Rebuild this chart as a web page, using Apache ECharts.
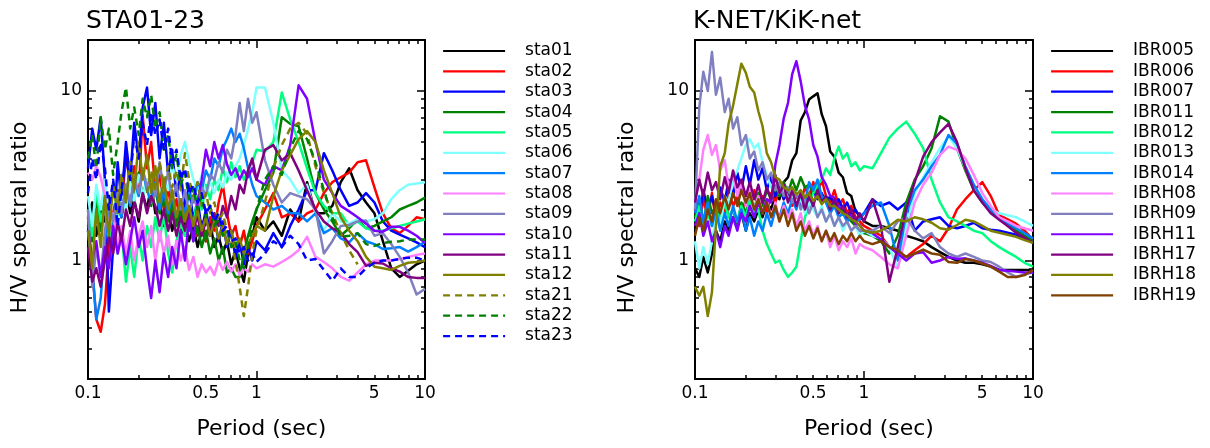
<!DOCTYPE html>
<html><head><meta charset="utf-8">
<script src="https://cdn.jsdelivr.net/npm/echarts@6/dist/echarts.min.js"></script>
<style>html,body{margin:0;padding:0;background:#fff}#c{width:1210px;height:448px}</style>
</head><body><div id="c"></div>
<script>
// Period grid (sec): 1/40 decade up to 1 s, 1/20 decade from 1 to 10 s
const periods = [0.1, 0.106, 0.112, 0.119, 0.126, 0.133, 0.141, 0.15, 0.158, 0.168, 0.178, 0.188, 0.2, 0.211, 0.224, 0.237, 0.251, 0.266, 0.282, 0.299, 0.316, 0.335, 0.355, 0.376, 0.398, 0.422, 0.447, 0.473, 0.501, 0.531, 0.562, 0.596, 0.631, 0.668, 0.708, 0.75, 0.794, 0.841, 0.891, 0.944, 1.0,
  1.122, 1.259, 1.413, 1.585, 1.778, 1.995, 2.239, 2.512, 2.818, 3.162, 3.548, 3.981, 4.467, 5.012, 5.623, 6.31, 7.079, 7.943, 8.913, 10];

// ---- Left panel: STA01-23 ----
const sta01 = [1.6, 2.2, 1.4, 2.0, 1.7, 2.4, 1.5, 2.1, 1.8, 2.6, 1.9, 2.3, 1.7, 2.5, 2.0, 2.8, 1.9, 2.2, 1.6, 2.0, 1.5, 1.9, 1.4, 1.7, 1.3, 1.6, 1.2, 1.5, 1.3, 1.7, 1.2, 1.4, 1.1, 1.3, 0.95, 1.15, 0.9, 0.75, 1.1, 1.4, 1.8,
  1.5, 1.7, 1.4, 2.0, 1.7, 2.9, 1.9, 1.9, 2.1, 2.9, 3.5, 2.6, 2.2, 1.9, 1.3, 0.9, 0.8, 0.87, 0.95, 1.0];
const sta02 = [1.8, 0.9, 0.45, 0.38, 0.55, 1.2, 1.9, 2.6, 2.0, 4.2, 2.8, 3.6, 2.5, 7.2, 3.5, 5.0, 2.6, 3.2, 2.0, 2.7, 1.8, 2.3, 1.6, 2.1, 1.5, 1.9, 1.4, 1.7, 1.3, 1.8, 1.5, 2.2, 2.8, 1.9, 1.4, 1.6, 1.2, 1.5, 1.1, 1.3, 1.6,
  2.0, 2.5, 1.8, 1.9, 1.7, 1.9, 2.0, 2.5, 2.9, 3.1, 3.3, 3.8, 3.9, 2.7, 1.9, 1.55, 1.45, 1.6, 1.8, 1.75];
const sta03 = [3.5, 6.0, 4.5, 7.0, 3.0, 0.5, 1.2, 3.8, 2.2, 5.0, 3.0, 6.5, 4.0, 8.0, 10.5, 5.5, 8.5, 4.0, 6.5, 3.2, 4.5, 2.4, 3.3, 2.0, 2.8, 1.7, 2.3, 1.5, 2.0, 1.4, 1.8, 1.3, 1.7, 1.2, 1.5, 1.05, 1.3, 0.95, 1.2, 1.0, 1.3,
  1.15, 1.45, 1.2, 1.6, 2.0, 2.6, 2.6, 4.3, 3.4, 2.6, 2.1, 2.2, 2.5, 2.2, 1.7, 1.5, 1.42, 1.35, 1.28, 1.2];
const sta04 = [1.8, 1.3, 2.2, 1.5, 2.5, 1.6, 2.9, 2.0, 3.2, 2.2, 3.8, 2.5, 3.3, 2.4, 3.0, 2.1, 2.7, 1.9, 2.4, 1.7, 2.2, 1.6, 2.0, 1.4, 1.8, 1.3, 1.6, 1.2, 1.5, 1.1, 1.35, 1.0, 1.2, 0.85, 0.9, 0.8, 0.8, 1.1, 1.4, 1.7, 2.0,
  2.6, 3.3, 7.0, 6.4, 6.2, 4.0, 2.5, 2.0, 1.7, 1.4, 1.55, 1.75, 1.55, 1.6, 1.7, 1.8, 2.0, 2.1, 2.2, 2.35];
const sta05 = [2.0, 1.4, 2.6, 1.7, 2.2, 1.3, 1.8, 1.1, 1.5, 0.75, 1.2, 0.8, 1.4, 1.0, 1.6, 1.2, 1.8, 1.3, 1.9, 1.1, 0.85, 1.3, 1.7, 1.4, 2.0, 1.6, 2.4, 2.0, 2.8, 2.3, 3.0, 2.6, 3.5, 2.9, 3.8, 3.1, 3.6, 3.0, 3.4, 3.8, 4.5,
  4.4, 5.0, 9.8, 6.8, 5.0, 3.5, 2.5, 2.1, 1.9, 1.9, 1.6, 1.7, 1.55, 1.5, 1.5, 1.55, 1.6, 1.65, 1.7, 1.75];
const sta06 = [2.4, 1.6, 2.8, 2.0, 3.0, 1.9, 2.6, 1.8, 2.4, 2.0, 2.9, 2.2, 3.2, 2.4, 3.0, 2.2, 2.8, 2.3, 3.1, 2.6, 3.6, 3.0, 4.2, 5.0, 3.8, 3.0, 2.6, 3.2, 2.4, 2.9, 2.5, 3.0, 2.7, 3.3, 3.0, 3.6, 4.0, 4.8, 6.0, 7.5, 10.5,
  10.5, 6.5, 3.4, 3.0, 2.5, 2.8, 1.9, 1.5, 1.9, 1.7, 1.65, 1.75, 1.7, 1.75, 1.9, 2.3, 2.6, 2.8, 2.85, 2.9];
const sta07 = [1.5, 0.9, 0.45, 0.6, 1.3, 2.0, 1.5, 2.5, 1.8, 2.8, 2.1, 3.0, 2.4, 3.4, 2.6, 2.2, 2.9, 2.0, 2.6, 1.9, 2.4, 1.8, 2.3, 1.9, 2.5, 2.2, 2.9, 2.6, 3.4, 3.0, 4.0, 3.6, 4.6, 5.2, 6.0, 5.0, 5.6, 4.6, 3.5, 2.8, 2.4,
  2.2, 2.0, 2.1, 1.9, 1.9, 1.7, 1.9, 1.45, 1.55, 1.35, 1.28, 1.45, 1.3, 1.25, 1.17, 1.18, 1.2, 1.13, 1.2, 1.29];
const sta08 = [3.3, 3.0, 3.6, 3.1, 2.4, 1.5, 1.9, 1.2, 1.6, 1.1, 1.5, 1.0, 1.4, 1.7, 1.2, 1.6, 1.0, 1.5, 1.1, 1.4, 0.95, 1.3, 1.0, 1.2, 0.88, 1.05, 0.8, 0.95, 0.85, 0.92, 0.82, 1.0, 0.88, 0.98, 0.86, 0.95, 0.82, 0.9, 0.86, 0.95, 0.9,
  0.95, 0.92, 0.98, 1.05, 1.15, 1.38, 1.05, 0.98, 0.9, 0.8, 0.76, 0.85, 0.95, 1.0, 1.0, 1.0, 1.02, 1.05, 1.08, 1.1];
const sta09 = [2.0, 0.7, 1.2, 0.8, 1.5, 2.2, 1.7, 2.5, 1.9, 2.8, 2.2, 3.1, 2.5, 3.5, 2.7, 3.2, 2.4, 3.8, 2.6, 3.3, 2.3, 2.8, 2.0, 2.6, 1.9, 2.4, 2.0, 2.7, 2.4, 3.2, 3.0, 3.8, 3.3, 4.5, 4.0, 5.5, 8.5, 5.8, 9.0, 6.5, 7.5,
  3.9, 2.8, 2.2, 2.5, 2.4, 2.3, 2.0, 1.1, 1.3, 1.6, 1.62, 1.7, 1.72, 1.4, 1.45, 1.25, 1.05, 0.85, 0.63, 0.68];
const sta10 = [1.5, 1.0, 1.3, 0.8, 1.2, 0.9, 1.6, 1.1, 1.4, 0.95, 1.3, 1.8, 1.2, 1.5, 0.9, 0.6, 1.0, 0.65, 1.1, 0.8, 1.2, 0.9, 1.5, 1.0, 1.8, 1.3, 2.2, 3.0, 4.5, 3.6, 5.0, 4.0, 4.8, 3.7, 3.2, 3.5, 3.0, 3.4, 3.1, 3.5, 3.0,
  2.8, 3.6, 3.4, 4.8, 10.8, 9.0, 5.0, 3.0, 2.5, 2.1, 1.95, 1.8, 1.65, 1.5, 1.48, 1.58, 1.58, 1.5, 1.4, 1.27];
const sta11 = [1.2, 0.75, 0.9, 0.7, 1.0, 1.4, 1.1, 1.7, 1.3, 2.0, 1.6, 2.2, 1.8, 2.5, 1.9, 2.4, 2.1, 1.6, 2.0, 1.5, 1.9, 1.4, 1.8, 1.5, 2.0, 1.6, 1.8, 1.4, 1.7, 1.5, 1.9, 1.6, 2.1, 1.8, 2.4, 2.0, 2.8, 2.5, 3.4, 4.0, 3.0,
  4.5, 4.8, 3.9, 4.3, 3.4, 2.6, 2.0, 1.7, 1.55, 1.46, 1.25, 1.12, 0.93, 0.97, 0.96, 0.9, 0.86, 0.8, 0.79, 0.79];
const sta12 = [1.5, 0.9, 2.0, 1.2, 2.4, 1.4, 2.8, 1.9, 3.2, 2.2, 3.8, 2.6, 5.0, 3.0, 4.2, 2.5, 3.6, 2.2, 3.0, 2.0, 2.6, 1.8, 2.3, 1.7, 2.1, 1.6, 2.0, 1.5, 1.8, 1.4, 1.7, 1.35, 1.6, 1.25, 1.5, 1.2, 1.35, 1.1, 1.25, 1.4, 1.6,
  1.5, 2.4, 3.4, 4.2, 5.2, 5.8, 5.0, 3.4, 2.5, 1.8, 1.5, 1.3, 1.05, 0.92, 0.9, 0.88, 0.93, 0.97, 0.98, 1.0];
const sta21 = [null, null, null, null, null, null, null, null, null, null, null, null, null, null, 2.5, 3.4, 2.6, 3.8, 2.8, 3.6, 2.7, 3.4, 2.6, 4.3, 3.0, 2.4, 2.9, 2.1, 2.5, 1.9, 2.2, 1.7, 1.9, 1.5, 1.3, 1.0, 0.7, 0.47, 0.7, 1.1, 1.5,
  2.2, 3.5, 4.8, 6.0, 6.5, 5.6, 3.6, 2.5, 1.9, 1.45, 1.15, 0.95, null, null, null, null, null, null, null, null];
const sta22 = [4.0, 5.5, 3.5, 7.0, 4.5, 6.0, 3.2, 5.0, 7.5, 10.5, 6.0, 8.0, 5.5, 9.0, 7.0, 9.5, 6.0, 7.5, 4.5, 5.5, 3.5, 4.2, 2.8, 3.3, 2.3, 2.7, 2.0, 2.4, 1.8, 2.1, 1.6, 1.8, 1.4, 1.5, 1.2, 1.3, 1.0, 0.9, 1.2, 1.6, 2.0,
  3.0, 3.6, 3.2, 4.6, 5.8, 5.2, 3.8, 2.6, 1.8, 1.38, 1.4, 1.45, 1.25, 1.22, 1.27, 1.29, 1.3, 1.33, 1.33, 1.33];
const sta23 = [2.5, 4.0, 3.0, 5.0, 3.5, 2.0, 3.0, 1.6, 2.6, 4.0, 3.0, 5.5, 4.0, 6.5, 4.8, 7.5, 5.5, 6.8, 4.5, 6.0, 3.8, 4.5, 3.0, 3.5, 2.5, 2.8, 2.2, 2.5, 1.9, 2.1, 1.7, 1.9, 1.5, 1.6, 1.3, 1.35, 1.1, 1.2, 1.0, 1.1, 0.98,
  1.1, 1.3, 1.2, 1.4, 1.25, 1.0, 1.02, 0.88, 0.76, 0.9, 0.8, 0.8, 0.9, 0.97, 1.0, 1.0, 1.02, 1.04, 1.04, 1.0];

// ---- Right panel: K-NET/KiK-net ----
const IBR005 = [0.9, 0.8, 1.05, 0.85, 1.1, 1.5, 1.3, 1.7, 1.5, 1.8, 1.6, 1.9, 1.5, 1.9, 1.7, 2.0, 1.8, 2.2, 2.0, 2.4, 2.3, 2.9, 3.1, 3.9, 4.3, 6.7, 7.5, 8.9, 9.3, 9.7, 7.3, 6.2, 4.4, 4.1, 3.3, 3.1, 2.5, 2.4, 1.95, 1.85, 1.7,
  1.6, 1.6, 1.55, 1.5, 1.4, 1.35, 1.3, 1.2, 1.12, 1.05, 1.0, 0.97, 0.97, 0.95, 0.92, 0.88, 0.88, 0.88, 0.88, 0.88];
const IBR006 = [2.0, 1.6, 2.3, 1.8, 2.5, 1.7, 2.2, 1.9, 2.6, 2.1, 2.4, 1.9, 2.3, 2.0, 2.6, 2.1, 2.4, 1.9, 2.5, 2.2, 2.7, 2.3, 2.6, 2.1, 2.4, 2.2, 2.7, 2.4, 2.9, 2.5, 3.0, 2.4, 2.2, 2.6, 2.1, 2.3, 1.9, 2.1, 1.8, 1.7, 1.6,
  1.5, 1.4, 1.2, 1.1, 1.05, 1.15, 1.25, 1.4, 1.3, 1.55, 2.0, 2.3, 2.6, 2.9, 2.4, 1.85, 1.75, 1.65, 1.5, 1.33];
const IBR007 = [2.3, 1.8, 2.6, 2.0, 2.4, 1.9, 2.7, 2.2, 3.0, 2.4, 3.3, 2.6, 3.6, 2.8, 3.9, 3.0, 3.5, 2.6, 3.1, 2.4, 2.8, 2.3, 2.6, 2.2, 2.5, 2.1, 2.4, 2.2, 2.6, 2.3, 2.5, 2.2, 2.4, 2.1, 2.3, 2.0, 2.2, 1.9, 2.0, 1.8, 1.9,
  2.3, 2.1, 2.2, 2.0, 2.2, 1.5, 1.7, 1.75, 1.8, 1.6, 1.55, 1.6, 1.67, 1.55, 1.52, 1.5, 1.46, 1.42, 1.36, 1.3];
const IBR011 = [1.8, 2.2, 1.6, 2.4, 1.9, 2.1, 1.7, 2.3, 1.8, 2.0, 1.6, 2.2, 1.9, 2.4, 2.0, 2.5, 2.1, 2.6, 2.3, 2.8, 2.4, 2.9, 2.5, 3.0, 2.6, 3.1, 2.7, 2.8, 2.5, 2.7, 2.3, 2.4, 2.1, 2.2, 1.9, 2.0, 1.8, 1.7, 1.6, 1.5, 1.45,
  1.4, 1.3, 1.1, 1.4, 2.2, 3.0, 3.6, 4.6, 7.1, 6.6, 4.6, 3.4, 2.6, 2.2, 1.95, 1.75, 1.65, 1.5, 1.4, 1.3];
const IBR012 = [1.7, 2.1, 1.5, 1.9, 1.6, 2.0, 1.7, 2.2, 1.8, 2.0, 1.7, 2.1, 1.8, 2.3, 1.9, 2.0, 1.5, 1.25, 1.1, 0.97, 1.0, 0.88, 0.8, 0.85, 0.92, 1.3, 1.8, 2.1, 2.5, 2.8, 3.0, 3.5, 3.2, 4.0, 4.7, 4.0, 4.3, 3.6, 3.8, 3.4, 3.6,
  3.5, 4.3, 5.3, 6.0, 6.6, 5.6, 4.6, 3.0, 2.2, 1.8, 1.7, 1.6, 1.5, 1.45, 1.3, 1.2, 1.12, 1.05, 0.97, 0.92];
const IBR013 = [1.3, 0.9, 1.2, 0.95, 1.3, 1.8, 1.6, 2.4, 2.2, 3.0, 3.4, 4.0, 4.8, 5.2, 4.6, 4.9, 3.8, 3.2, 2.7, 3.0, 2.5, 2.7, 2.3, 2.5, 2.1, 2.3, 1.9, 2.2, 2.0, 1.8, 2.1, 1.7, 1.9, 1.6, 1.8, 1.5, 1.7, 1.5, 1.6, 1.4, 1.5,
  1.4, 1.35, 1.2, 0.9, 1.6, 2.5, 3.1, 3.8, 4.6, 5.4, 4.6, 3.5, 2.7, 2.3, 2.0, 1.9, 1.85, 1.8, 1.7, 1.6];
const IBR014 = [1.9, 2.4, 1.7, 2.2, 1.6, 2.0, 1.5, 1.9, 1.6, 2.1, 1.7, 2.0, 1.5, 1.8, 1.4, 1.7, 1.5, 1.9, 1.6, 2.0, 1.8, 2.2, 1.9, 2.3, 2.0, 2.5, 2.2, 2.9, 2.6, 3.0, 2.4, 2.2, 1.9, 2.1, 1.8, 1.9, 1.7, 1.8, 1.7, 1.75, 1.9,
  2.1, 2.2, 1.6, 1.0, 1.9, 2.6, 3.0, 3.6, 4.2, 5.5, 4.9, 3.6, 2.8, 2.3, 2.0, 1.8, 1.65, 1.55, 1.45, 1.35];
const IBRH08 = [2.2, 3.0, 4.5, 5.5, 4.2, 4.8, 3.4, 3.9, 2.7, 3.2, 2.4, 2.9, 2.1, 2.6, 2.0, 2.4, 1.9, 2.3, 1.8, 2.2, 1.7, 2.1, 1.8, 2.0, 1.6, 1.9, 1.5, 1.7, 1.4, 1.6, 1.3, 1.5, 1.2, 1.4, 1.15, 1.3, 1.2, 1.35, 1.1, 1.25, 1.2,
  1.15, 1.05, 0.95, 0.9, 1.4, 2.2, 2.8, 3.3, 4.2, 4.7, 4.5, 4.0, 3.2, 2.5, 2.1, 1.8, 1.7, 1.6, 1.55, 1.5];
const IBRH09 = [2.0, 8.0, 13.0, 10.0, 17.0, 9.5, 12.0, 7.5, 9.0, 6.0, 7.0, 4.8, 5.5, 4.0, 4.4, 3.4, 3.8, 3.0, 3.3, 2.6, 2.9, 2.4, 2.7, 2.2, 2.5, 2.0, 2.3, 1.9, 2.2, 1.8, 2.0, 1.7, 1.9, 1.6, 1.8, 1.6, 1.7, 1.5, 1.6, 1.5, 1.5,
  1.5, 1.6, 1.45, 1.7, 1.8, 1.5, 1.35, 1.45, 1.2, 1.1, 1.05, 1.1, 1.05, 1.0, 0.98, 0.92, 0.85, 0.8, 0.83, 0.85];
const IBRH11 = [1.6, 1.9, 1.4, 1.7, 1.3, 1.5, 1.2, 1.6, 1.4, 1.8, 1.5, 1.9, 1.7, 2.1, 1.8, 2.2, 1.9, 2.3, 2.2, 3.7, 4.8, 6.9, 8.5, 12.6, 15.0, 11.4, 8.2, 6.8, 4.8, 4.1, 3.1, 2.8, 2.4, 2.35, 2.05, 2.05, 1.85, 1.85, 1.65, 1.62, 1.5,
  1.45, 1.33, 1.2, 1.1, 1.0, 1.1, 1.12, 0.97, 1.0, 1.05, 1.02, 1.03, 1.0, 0.97, 0.93, 0.88, 0.87, 0.86, 0.85, 0.85];
const IBRH17 = [2.2, 3.0, 2.4, 3.3, 2.6, 2.9, 2.3, 3.1, 2.5, 3.4, 2.7, 3.0, 2.4, 2.9, 2.3, 2.8, 2.2, 2.7, 2.3, 3.2, 2.5, 2.8, 2.2, 2.6, 2.1, 2.5, 2.0, 2.4, 2.1, 2.6, 2.2, 2.4, 2.0, 2.3, 1.9, 2.1, 1.8, 2.0, 1.7, 1.9, 1.7,
  2.3, 1.6, 0.75, 1.2, 2.0, 2.9, 4.1, 5.0, 5.7, 6.4, 5.0, 3.5, 2.6, 2.2, 1.9, 1.74, 1.6, 1.46, 1.36, 1.27];
const IBRH18 = [0.7, 0.62, 0.7, 0.47, 0.65, 1.6, 3.6, 4.3, 6.4, 8.2, 11.0, 14.5, 12.8, 10.6, 9.8, 7.6, 6.2, 4.3, 3.8, 3.1, 3.0, 2.7, 2.6, 2.7, 2.45, 2.6, 2.35, 2.5, 2.25, 2.4, 2.15, 2.3, 2.1, 2.1, 2.0, 1.9, 1.85, 1.75, 1.7, 1.6, 1.5,
  1.46, 1.5, 1.6, 1.74, 1.7, 1.8, 1.75, 1.67, 1.55, 1.52, 1.62, 1.74, 1.7, 1.6, 1.5, 1.46, 1.42, 1.38, 1.32, 1.27];
const IBRH19 = [1.4, 1.8, 1.5, 2.0, 1.7, 2.3, 1.9, 2.4, 2.0, 2.5, 2.1, 2.6, 2.2, 2.5, 2.0, 2.3, 1.9, 2.2, 1.8, 2.1, 1.7, 2.0, 1.6, 1.9, 1.5, 1.7, 1.4, 1.6, 1.35, 1.55, 1.3, 1.5, 1.3, 1.45, 1.25, 1.4, 1.3, 1.45, 1.3, 1.4, 1.3,
  1.25, 1.3, 1.2, 1.15, 1.05, 1.1, 1.16, 1.1, 1.08, 0.98, 0.97, 1.02, 1.0, 0.96, 0.92, 0.86, 0.8, 0.8, 0.82, 0.88];

// Names and tick values
const leftNames = ['sta01','sta02','sta03','sta04','sta05','sta06','sta07','sta08','sta09','sta10','sta11','sta12','sta21','sta22','sta23'];
const leftValues = [sta01, sta02, sta03, sta04, sta05, sta06, sta07, sta08, sta09, sta10, sta11, sta12, sta21, sta22, sta23];
const rightNames = ['IBR005','IBR006','IBR007','IBR011','IBR012','IBR013','IBR014','IBRH08','IBRH09','IBRH11','IBRH17','IBRH18','IBRH19'];
const rightValues = [IBR005, IBR006, IBR007, IBR011, IBR012, IBR013, IBR014, IBRH08, IBRH09, IBRH11, IBRH17, IBRH18, IBRH19];
const xLabelTicks = [0.1, 0.5, 1, 5, 10];
const xMajorTicks = [0.1, 1, 10];
const xMinorTicks = [0.2, 0.3, 0.4, 0.5, 0.6, 0.7, 0.8, 0.9, 2, 3, 4, 5, 6, 7, 8, 9];
const yLabelTicks = [1, 10];
const yMajorTicks = [1, 10];
const yMinorTicks = [0.3, 0.4, 0.5, 0.6, 0.7, 0.8, 0.9, 2, 3, 4, 5, 6, 7, 8, 9];

// Styles
const leftColors = ['#000000','#ff0000','#0000ff','#008000','#00ff80','#80ffff','#0080ff','#ff80ff','#8080c0','#8000ff','#800080','#808000','#808000','#008000','#0000ff'];
const leftDashed = [false,false,false,false,false,false,false,false,false,false,false,false,true,true,true];
const rightColors = ['#000000','#ff0000','#0000ff','#008000','#00ff80','#80ffff','#0080ff','#ff80ff','#8080c0','#8000ff','#800080','#808000','#804000'];

const FONT = 'DejaVu Sans';
const grids = [
  {left: 88, top: 40, width: 337, height: 339},
  {left: 695, top: 40, width: 338, height: 339}
];

const xAxes = [], yAxes = [];
const fmt = v => String(+(+v).toPrecision(3));
grids.forEach((g, gi) => {
  const base = {type: 'log', logBase: 10, gridIndex: gi, min: 0.1, max: 10, splitLine: {show: false}, minorTick: {show: false}, minorSplitLine: {show: false}};
  xAxes.push(Object.assign({}, base, {
    position: 'bottom',
    axisLine: {show: true, onZero: false, lineStyle: {color: '#000', width: 2}},
    axisTick: {show: true, inside: true, length: 8, customValues: xMajorTicks, lineStyle: {color: '#000', width: 1.5}},
    axisLabel: {show: true, customValues: xLabelTicks, formatter: fmt, color: '#000', fontSize: 17, fontFamily: FONT, margin: 6},
    name: 'Period (sec)', nameLocation: 'middle', nameGap: 39,
    nameTextStyle: {fontSize: 22, color: '#000', fontFamily: FONT, padding: [0, 0, 0, 10]}
  }));
  xAxes.push(Object.assign({}, base, {
    position: 'bottom', axisLine: {show: false},
    axisTick: {show: true, inside: true, length: 4, customValues: xMinorTicks, lineStyle: {color: '#000', width: 1.5}},
    axisLabel: {show: false}
  }));
  xAxes.push(Object.assign({}, base, {
    position: 'top', axisLine: {show: true, onZero: false, lineStyle: {color: '#000', width: 2}},
    axisTick: {show: true, inside: true, length: 8, customValues: xMajorTicks, lineStyle: {color: '#000', width: 1.5}},
    axisLabel: {show: false}
  }));
  xAxes.push(Object.assign({}, base, {
    position: 'top', axisLine: {show: false},
    axisTick: {show: true, inside: true, length: 4, customValues: xMinorTicks, lineStyle: {color: '#000', width: 1.5}},
    axisLabel: {show: false}
  }));
  const ybase = {type: 'log', logBase: 10, gridIndex: gi, min: 0.2, max: 20, splitLine: {show: false}, minorTick: {show: false}, minorSplitLine: {show: false}};
  yAxes.push(Object.assign({}, ybase, {
    position: 'left',
    axisLine: {show: true, onZero: false, lineStyle: {color: '#000', width: 2}},
    axisTick: {show: true, inside: true, length: 8, customValues: yMajorTicks, lineStyle: {color: '#000', width: 1.5}},
    axisLabel: {show: true, customValues: yLabelTicks, formatter: fmt, color: '#000', fontSize: 17, fontFamily: FONT, margin: 6},
    name: 'H/V spectral ratio', nameLocation: 'middle', nameGap: 57, nameRotate: 90,
    nameTextStyle: {fontSize: 22, color: '#000', fontFamily: FONT, padding: [0, 16, 0, 0]}
  }));
  yAxes.push(Object.assign({}, ybase, {
    position: 'left', axisLine: {show: false},
    axisTick: {show: true, inside: true, length: 4, customValues: yMinorTicks, lineStyle: {color: '#000', width: 1.5}},
    axisLabel: {show: false}
  }));
  yAxes.push(Object.assign({}, ybase, {
    position: 'right', axisLine: {show: true, onZero: false, lineStyle: {color: '#000', width: 2}},
    axisTick: {show: true, inside: true, length: 8, customValues: yMajorTicks, lineStyle: {color: '#000', width: 1.5}},
    axisLabel: {show: false}
  }));
  yAxes.push(Object.assign({}, ybase, {
    position: 'right', axisLine: {show: false},
    axisTick: {show: true, inside: true, length: 4, customValues: yMinorTicks, lineStyle: {color: '#000', width: 1.5}},
    axisLabel: {show: false}
  }));
});

function makeSeries(name, vals, color, dashed, gi) {
  const data = periods.map((t, i) => [t, vals[i] == null ? null : vals[i]]);
  return {
    type: 'line', name: name, data: data,
    xAxisIndex: gi * 4, yAxisIndex: gi * 4,
    symbol: 'none', showSymbol: false, smooth: false, connectNulls: false, clip: true,
    lineStyle: {color: color, width: 2.5, type: dashed ? [7, 5] : 'solid', join: 'round'},
    itemStyle: {color: color},
    emphasis: {disabled: true}
  };
}

const series = [];
leftNames.forEach((n, i) => series.push(makeSeries(n, leftValues[i], leftColors[i], leftDashed[i], 0)));
rightNames.forEach((n, i) => series.push(makeSeries(n, rightValues[i], rightColors[i], false, 1)));

const legendCommon = {
  orient: 'vertical', top: 36, itemWidth: 62, itemHeight: 14, itemGap: 0.36,
  itemStyle: {opacity: 0, borderWidth: 0},
  lineStyle: {width: 2.2},
  textStyle: {fontSize: 17, fontFamily: FONT, color: '#000', lineHeight: 20, padding: [0, 0, 0, 15]},
  selectedMode: false
};

const option = {
  animation: false,
  backgroundColor: '#fff',
  textStyle: {fontFamily: FONT},
  title: [
    {text: 'STA01-23', left: 81, top: 4, textStyle: {fontSize: 25, fontWeight: 'normal', color: '#000', fontFamily: FONT}},
    {text: 'K-NET/KiK-net', left: 688, top: 4, textStyle: {fontSize: 25, fontWeight: 'normal', color: '#000', fontFamily: FONT}}
  ],
  legend: [
    Object.assign({}, legendCommon, {left: 437, data: leftNames}),
    Object.assign({}, legendCommon, {left: 1045, data: rightNames})
  ],
  grid: grids.map(g => Object.assign({containLabel: false}, g)),
  xAxis: xAxes,
  yAxis: yAxes,
  series: series
};

const chart = echarts.init(document.getElementById('c'), null, {renderer: 'canvas'});
chart.setOption(option);
</script>
</body></html>
